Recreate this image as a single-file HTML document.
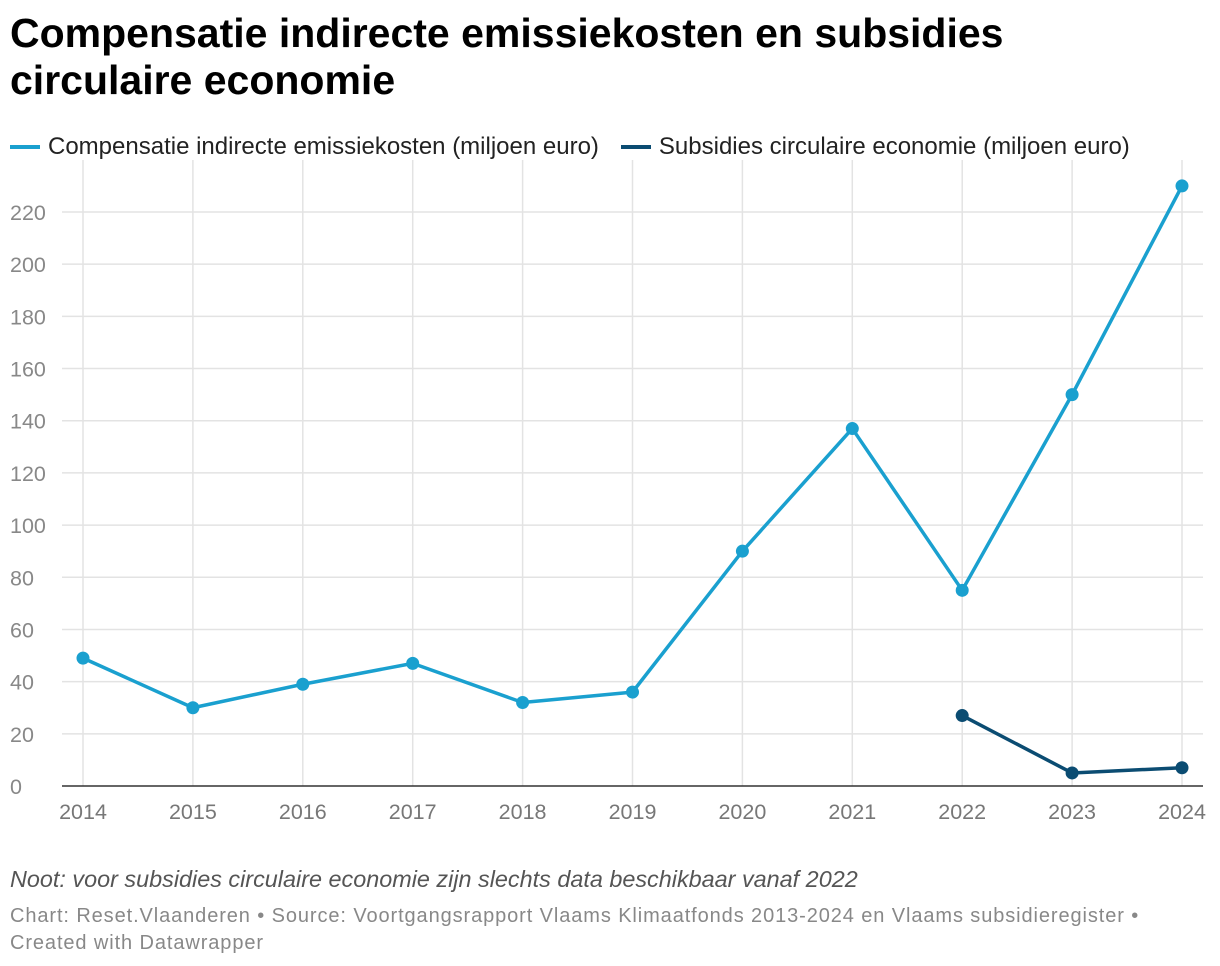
<!DOCTYPE html>
<html><head><meta charset="utf-8">
<style>
body{margin:0;width:1220px;height:966px;background:#fff;font-family:"Liberation Sans",sans-serif;overflow:hidden;position:relative}
h1{position:absolute;left:10px;top:10px;margin:0;font-size:41px;line-height:47px;font-weight:bold;color:#000;width:1200px}
.legend{position:absolute;top:133px;left:10px;font-size:24px;color:#222;display:flex;gap:22px}
.li{display:flex;align-items:center}
.sw{width:30px;height:4px;margin-right:8px;display:inline-block}
.note{position:absolute;left:10px;top:866px;font-size:23.4px;font-style:italic;color:#555}
.src{position:absolute;left:10px;top:903px;font-size:20px;letter-spacing:0.9px;color:#888;line-height:27px;width:1210px}
</style></head><body>
<h1>Compensatie indirecte emissiekosten en subsidies<br>circulaire economie</h1>
<div class="legend">
<div class="li"><span class="sw" style="background:#1aa0cf"></span>Compensatie indirecte emissiekosten (miljoen euro)</div>
<div class="li"><span class="sw" style="background:#0b4c72"></span>Subsidies circulaire economie (miljoen euro)</div>
</div>
<svg id="chart" width="1220" height="966" style="position:absolute;left:0;top:0"></svg>
<div class="note">Noot: voor subsidies circulaire economie zijn slechts data beschikbaar vanaf 2022</div>
<div class="src">Chart: Reset.Vlaanderen • Source: Voortgangsrapport Vlaams Klimaatfonds 2013-2024 en Vlaams subsidieregister •<br>Created with Datawrapper</div>
<script>
const years=[2014,2015,2016,2017,2018,2019,2020,2021,2022,2023,2024];
const compensatie=[49,30,39,47,32,36,90,137,75,150,230];
const subsidieYears=[2022,2023,2024];
const subsidies=[27,5,7];
const yTicks=[0,20,40,60,80,100,120,140,160,180,200,220];
const NS="http://www.w3.org/2000/svg";
const svg=document.getElementById('chart');
const x=y=>83+(y-2014)*(1182-83)/10;
const yy=v=>786-v*(786-212)/220;
function el(t,a){const e=document.createElementNS(NS,t);for(const k in a)e.setAttribute(k,a[k]);svg.appendChild(e);return e;}
yTicks.forEach(t=>{
 if(t>0){const g=el('line',{x1:62,x2:1203,y1:yy(t),y2:yy(t),stroke:'#e3e3e3','stroke-width':1.5});
 
 }
 const l=el('text',{x:10,y:yy(t)+8,'font-size':21.5,fill:'#888'});l.textContent=t;
 
 
});
years.forEach(yv=>{
 const g=el('line',{x1:x(yv),x2:x(yv),y1:160,y2:786,stroke:'#e3e3e3','stroke-width':1.5});
 
 
 const l=el('text',{x:x(yv),y:819,'font-size':21.5,fill:'#777','text-anchor':'middle'});l.textContent=yv;
 
 
});
const ax=el('line',{x1:62,x2:1203,y1:786,y2:786,stroke:'#333','stroke-width':1.5});


function series(xs,vs,col,name){
 const p=el('polyline',{points:xs.map((a,i)=>x(a)+','+yy(vs[i])).join(' '),fill:'none',stroke:col,'stroke-width':3.5,'stroke-linejoin':'round'});
 
 
 xs.forEach((a,i)=>{const c=el('circle',{cx:x(a),cy:yy(vs[i]),r:6.5,fill:col});
 
 });
}
series(years,compensatie,'#1aa0cf','compensatie');
series(subsidieYears,subsidies,'#0b4c72','subsidies');
</script>
</body></html>
